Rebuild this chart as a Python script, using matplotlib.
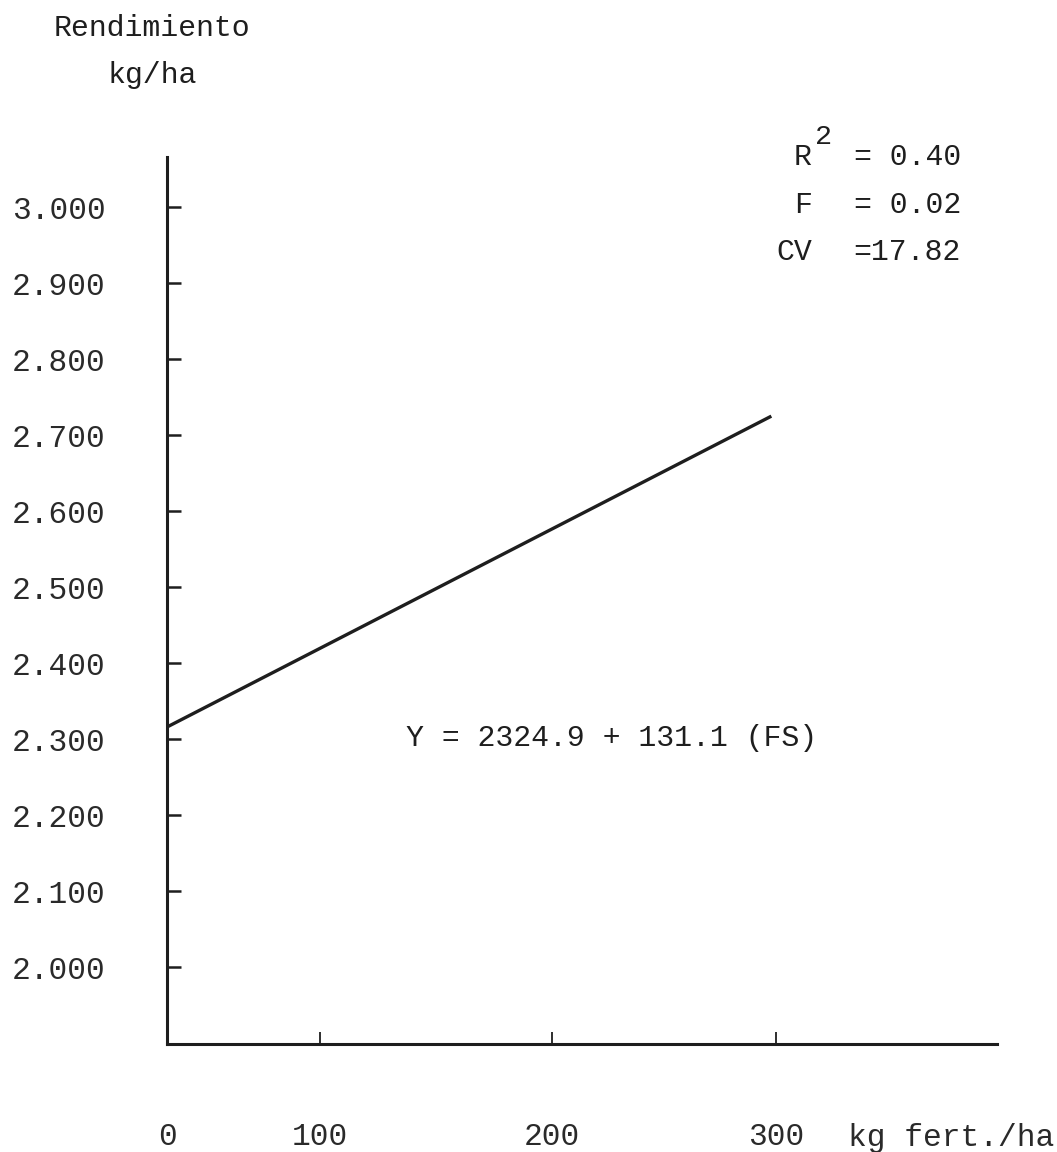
import numpy as np
import matplotlib
matplotlib.use("Agg")
import matplotlib.pyplot as plt

plt.rcParams['font.family'] = ['Liberation Mono', 'DejaVu Sans Mono']

# fitted response line, read at both ends
fert = [0, 298]
yield_kg = [2316, 2725]

x_ticks = [0, 100, 200, 300]
# the horizontal axis was ruled by hand: position (cm on the page) of each hundred
x_knots = [0, 100, 200, 300, 400]
x_ruled = [0, 15.3, 38.5, 60.9, 83.0]

y_ticks = [2000, 2100, 2200, 2300, 2400, 2500, 2600, 2700, 2800, 2900, 3000]
y_labels = ['{:.3f}'.format(v / 1000) for v in y_ticks]

stats_names = ['R', 'F', 'CV']
stats_vals = ['= 0.40', '= 0.02', '=17.82']
equation = 'Y = 2324.9 + 131.1 (FS)'

ink = '#1e1e1e'
fs = 22.5


def forward(x):
    return np.interp(x, x_knots, x_ruled)


def inverse(x):
    return np.interp(x, x_ruled, x_knots)


fig = plt.figure(figsize=(10.57, 11.52), dpi=100)
ax = fig.add_axes([0.158, 0.09375, 0.785, 0.770])

ax.plot(fert, yield_kg, color=ink, lw=2.4, solid_capstyle='butt')

ax.set_xscale('function', functions=(forward, inverse))
ax.set_xlim(0, 400)
ax.set_ylim(1899, 3066)

ax.set_xticks(x_ticks)
ax.set_xticklabels([str(v) for v in x_ticks])
ax.set_yticks(y_ticks)
ax.set_yticklabels(y_labels)
ax.minorticks_off()

for side in ['top', 'right']:
    ax.spines[side].set_visible(False)
for side in ['left', 'bottom']:
    ax.spines[side].set_linewidth(2.2)
    ax.spines[side].set_color(ink)

ax.tick_params(axis='y', direction='in', length=10, width=1.8, color=ink,
               pad=44, labelsize=fs, labelcolor='#2a2a2a')
ax.tick_params(axis='x', direction='in', length=9, width=1.3, color=ink,
               pad=56, labelsize=fs, labelcolor='#2a2a2a')

# axis titles
fig.text(0.051, 0.9757, 'Rendimiento', fontsize=fs - 1, color=ink,
         ha='left', va='center')
fig.text(0.102, 0.935, 'kg/ha', fontsize=fs - 1, color=ink,
         ha='left', va='center')
fig.text(0.802, 0.0122, 'kg fert./ha', fontsize=fs, color='#2a2a2a',
         ha='left', va='center')

# regression statistics
rows_y = [0.8637, 0.822, 0.781]
for name, val, yy in zip(stats_names, stats_vals, rows_y):
    fig.text(0.768, yy, name, fontsize=fs - 1, color=ink, ha='right', va='center')
    fig.text(0.909, yy, val, fontsize=fs - 1, color=ink, ha='right', va='center')
fig.text(0.771, 0.881, '2', fontsize=fs - 2, color=ink, ha='left', va='center')

fig.text(0.384, 0.359, equation, fontsize=fs - 1, color=ink,
         ha='left', va='center')

fig.savefig('out.png', dpi=100, facecolor='white')
